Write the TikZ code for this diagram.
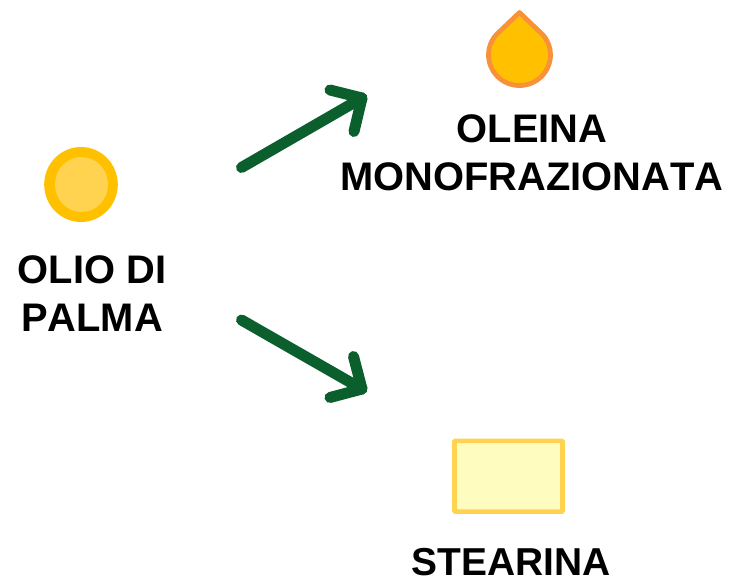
\documentclass[tikz,border=0pt]{standalone}
\usepackage{fontspec}
\setmainfont[Kerning=Off]{Liberation Sans}
\definecolor{arrowgreen}{HTML}{0B5F2C}
\definecolor{goldfill}{HTML}{FFC000}
\definecolor{goldlight}{HTML}{FFD350}
\definecolor{dropedge}{HTML}{F79239}
\definecolor{creamfill}{HTML}{FFFCC0}
\tikzset{
  x=0.75pt,y=-0.75pt,
  label text/.style={font=\fontsize{29.9pt}{36pt}\selectfont\bfseries,align=center,inner sep=0pt,text=black},
  flow/.style={draw=arrowgreen,line width=8.25pt,line cap=round,line join=round},
}
\begin{document}
\begin{tikzpicture}
\useasboundingbox (0,0) rectangle (733,582);
% coordinates
\coordinate (a1s) at (241.5,167.5);
\coordinate (a1e) at (362,98);
\coordinate (a1h1) at (330,90);
\coordinate (a1h2) at (354,131.5);
\coordinate (a2s) at (241.5,320);
\coordinate (a2e) at (362,389);
\coordinate (a2h1) at (353.5,356.5);
\coordinate (a2h2) at (330,397.5);
% olio icon
\fill[goldfill] (81,184.5) ellipse [x radius=36.8,y radius=37.5];
\fill[goldlight] (81.5,184.5) ellipse [x radius=26.5,y radius=27.5];
% drop
\draw[fill=goldfill,draw=dropedge,line width=3.6pt,line join=round]
  (519.5,12.5) -- (542,34)
  .. controls (547.5,39.5) and (550.5,47) .. (550.5,54.5)
  .. controls (550.5,72) and (536.5,85.5) .. (519.5,85.5)
  .. controls (502.5,85.5) and (488.5,72) .. (488.5,54.5)
  .. controls (488.5,47) and (491.5,39.5) .. (497,34) -- cycle;
% block
\node[draw=goldlight,fill=creamfill,line width=3.4pt,minimum width=81pt,minimum height=53pt,inner sep=0pt,rounded corners=0.5pt] (block) at (508.5,476.2) {};
% arrows
\draw[flow] (a1s) -- (a1e);
\draw[flow] (a1h1) -- (a1e) -- (a1h2);
\draw[flow] (a2s) -- (a2e);
\draw[flow] (a2h1) -- (a2e) -- (a2h2);
% labels
\node[label text] (olio) at (92,293.5) {OLIO DI\\PALMA};
\node[label text] (oleina) at (532,153) {OLEINA\\MONOFRAZIONATA};
\node[label text,font=\fontsize{29.2pt}{36pt}\selectfont\bfseries] (stearina) at (511,562) {STEARINA};
\end{tikzpicture}
\end{document}
